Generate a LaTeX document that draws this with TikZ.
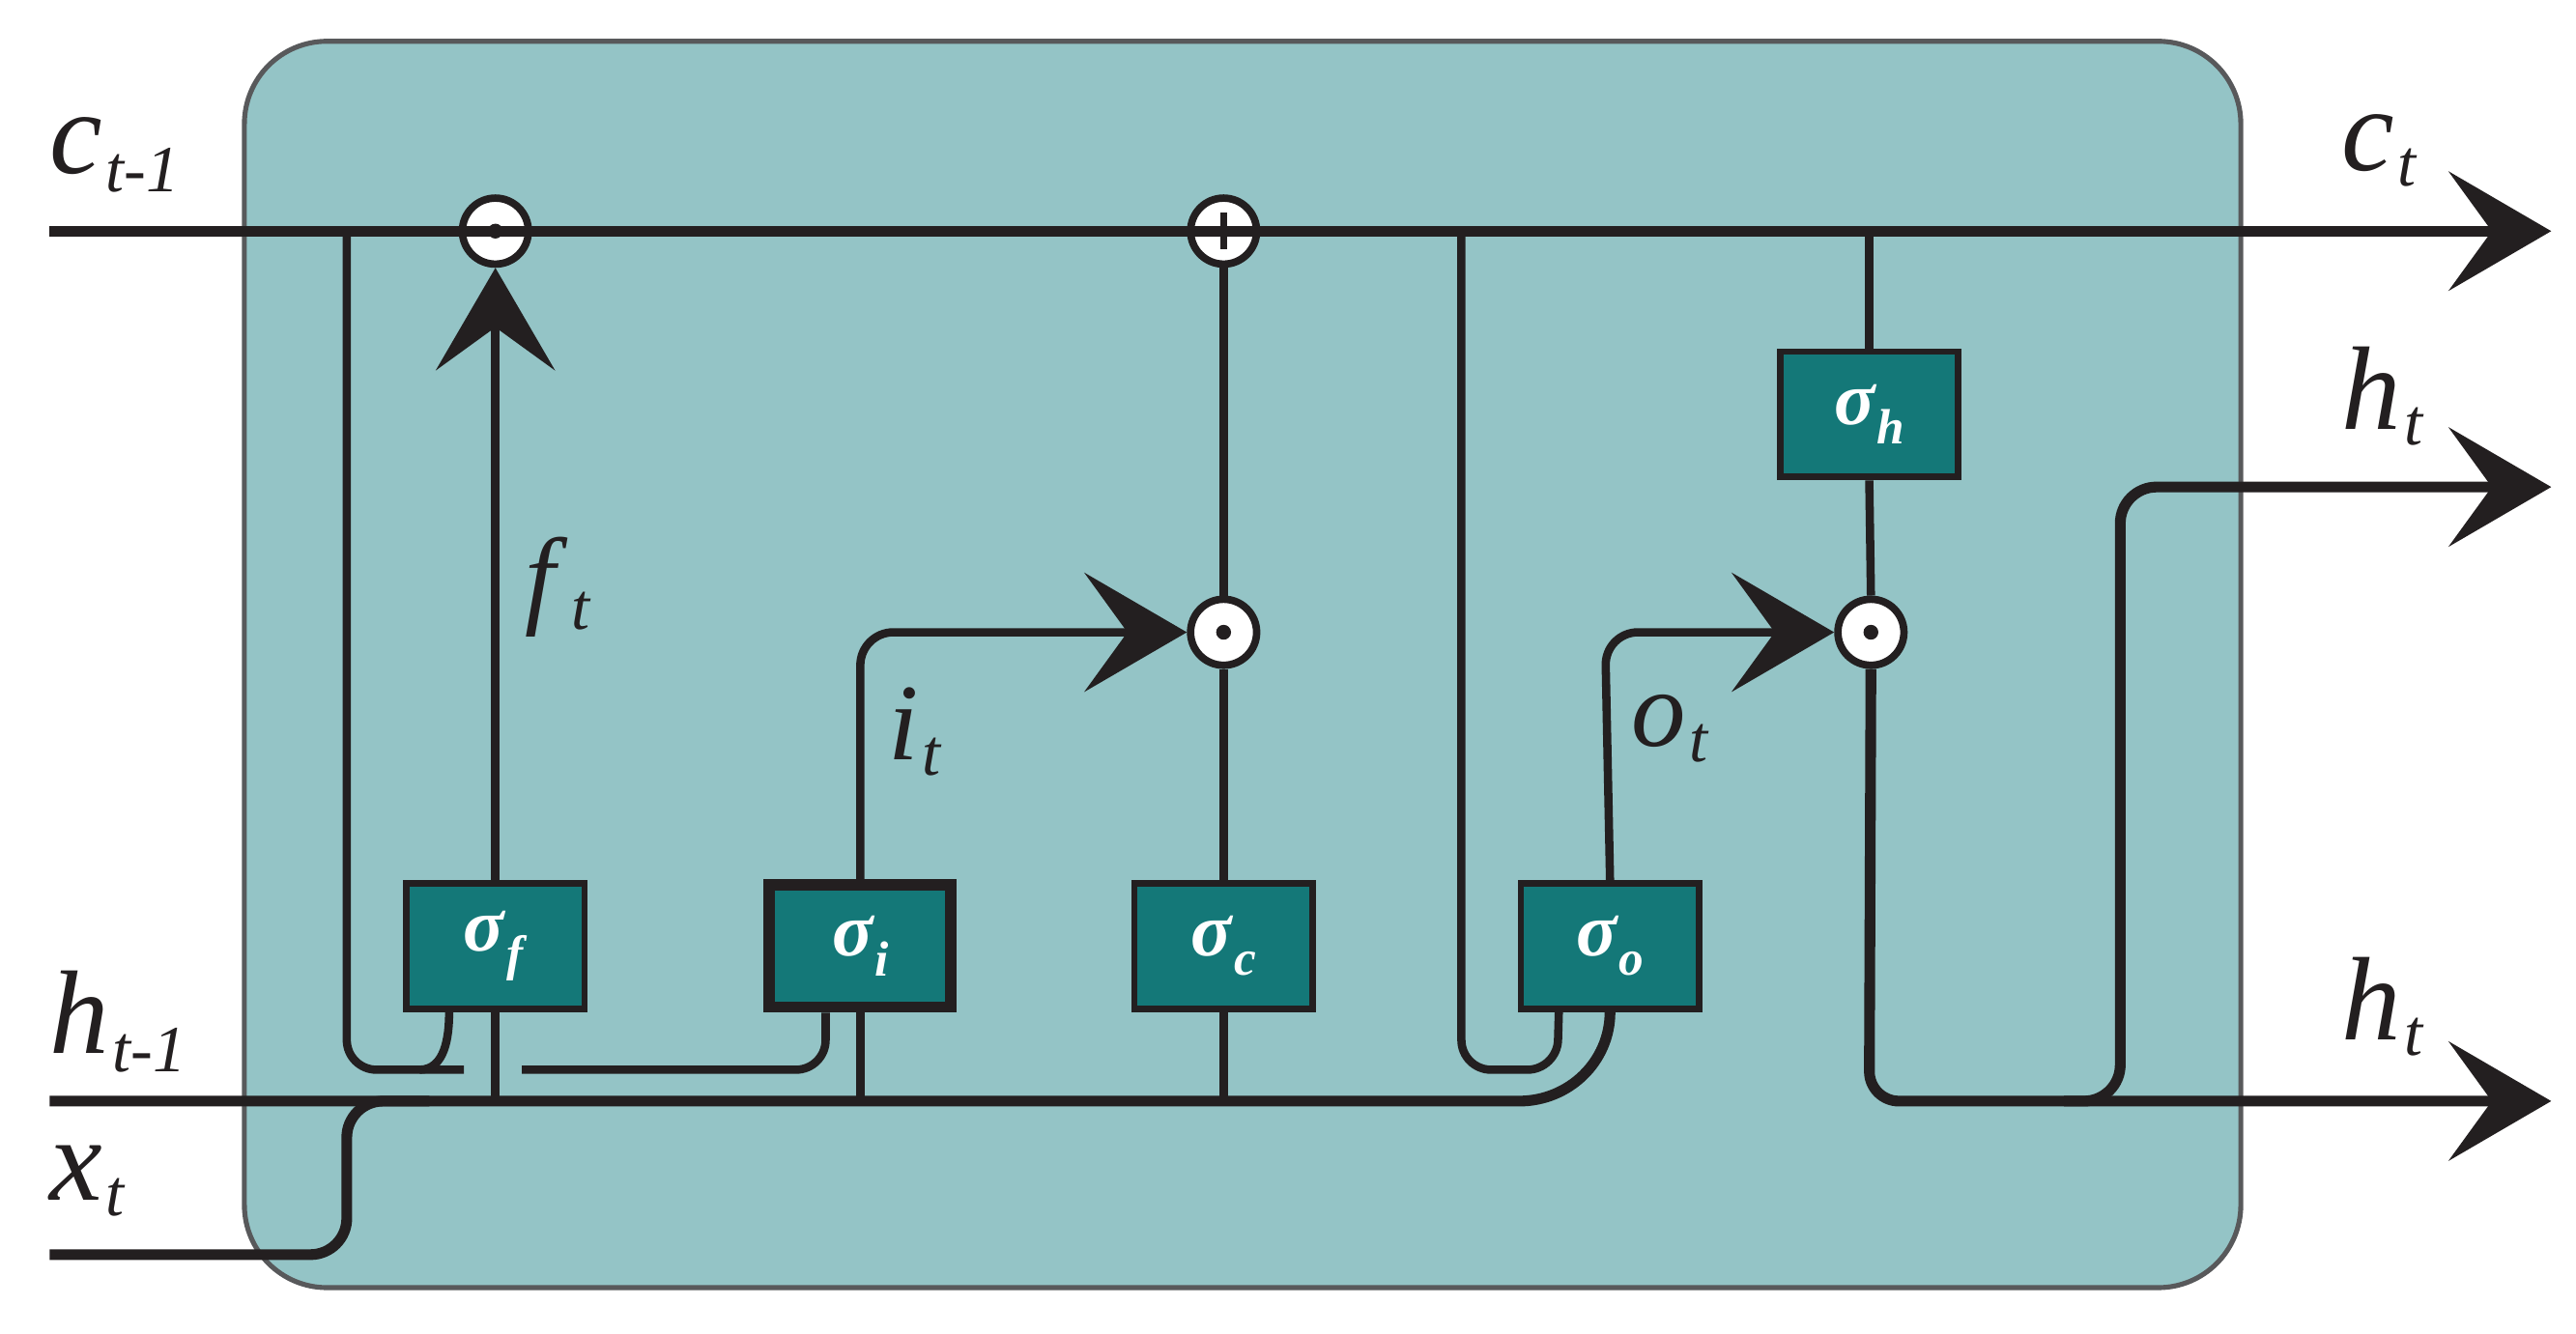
\documentclass[tikz,border=0pt]{standalone}
\usepackage{fontspec}
\setmainfont{Liberation Serif}
\usetikzlibrary{arrows.meta,calc}
\definecolor{cellbg}{HTML}{94C4C6}
\definecolor{cellbd}{HTML}{58595B}
\definecolor{gatebg}{HTML}{147878}
\definecolor{ink}{HTML}{231F20}
\newcommand{\lbl}[3]{\fontsize{#3}{#3}\selectfont\textit{#1}\kern2pt\raisebox{-0.42\height}{\fontsize{40}{40}\selectfont\textit{#2}}}
\newcommand{\glbl}[1]{\fontsize{46}{46}\selectfont\textbf{\textit{σ}}\raisebox{-12pt}{\fontsize{30}{30}\selectfont\textbf{\textit{#1}}}}
\tikzset{
  wire/.style={draw=ink,line width=6.5pt},
  thin/.style={draw=ink,line width=5pt},
  big/.style={-{Stealth[length=62pt,width=72pt,inset=26pt]}},
  gate/.style={draw=ink,fill=gatebg,line width=4pt,minimum width=108pt,minimum height=76pt,inner sep=0pt,text=white},
  op/.style={circle,draw=ink,fill=white,line width=4.5pt,minimum size=40pt,inner sep=0pt},
  lab/.style={inner sep=0pt,anchor=base west,text=ink}
}
\begin{document}
\begin{tikzpicture}[x=1pt,y=-1pt]
\useasboundingbox (0,0) rectangle (1560,808);
\fill[cellbg,draw=cellbd,line width=3pt,rounded corners=50pt] (148,25) rectangle (1357,780);
% nodes
\node[op] (pf) at (300,140) {};
\node[op] (pc) at (741,140) {};
\node[op] (pi) at (741,383) {};
\node[op] (po) at (1133,383) {};
\node[gate] (sf) at (300,573) {\glbl{f}};
\node[gate,line width=7pt,minimum width=110pt,minimum height=74pt] (si) at (521,573) {\glbl{i}};
\node[gate] (sc) at (741,573) {\glbl{c}};
\node[gate] (so) at (975,573) {\glbl{o}};
\node[gate] (sh) at (1132,251) {\glbl{h}};
\coordinate (cin) at (30,140);
\coordinate (cout) at (1545,140);
\coordinate (hin) at (30,667);
\coordinate (xin) at (30,760);
\coordinate (hout) at (1545,667);
\coordinate (hout2) at (1545,295);
% wires
\draw[wire,big] (cin) -- (cout);
\draw[wire] (hin) -- (920,667) to[out=0,in=-90] (so.south);
\draw[wire,rounded corners=22pt] (xin) -- (210,760) -- (210,667) -- (260,667);
\draw[thin] (sf.south) -- (300,667);
\draw[thin] (si.south) -- (521,667);
\draw[thin] (sc.south) -- (741,667);
\draw[thin,big] (sf.north) -- (pf.south);
\draw[thin,rounded corners=20pt,big] (si.north) -- (521,383) -- (pi.west);
\draw[thin,rounded corners=20pt,big] (so.north) -- (972,383) -- (po.west);
\draw[thin] (sc.north) -- (pi.south);
\draw[thin] (pi.north) -- (pc.south);
\draw[thin] (po.north) -- (sh.south);
\draw[thin] (sh.north) -- (1132,140);
% peepholes
\draw[thin,rounded corners=18pt] (210,140) -- (210,648) -- (281,648);
\draw[thin] (254,648) to[out=0,in=-90] ([xshift=-28pt]sf.south);
\draw[thin,rounded corners=18pt] (316,648) -- (500,648) -- ([xshift=-21pt]si.south);
\draw[thin,rounded corners=18pt] (885,140) -- (885,648) -- (943,648) -- ([xshift=-31pt]so.south);
% h outputs
\draw[wire,rounded corners=18pt,big] (po.south) -- (1132,667) -- (hout);
\draw[wire,rounded corners=22pt,big] (1250,667) -- (1284,667) -- (1284,295) -- (hout2);
% op symbols
\foreach \n in {pf,pi,po}{\fill[ink] (\n) circle (4.5pt);}
\draw[ink,line width=4pt] ($(pc)+(-11,0)$) -- ($(pc)+(11,0)$) ($(pc)+(0,-11)$) -- ($(pc)+(0,11)$);
% labels
\node[lab] (lc1) at (30,105) {\lbl{c}{t-1}{72}};
\node[lab] (lct) at (1418,103) {\lbl{c}{t}{72}};
\node[lab] (lht) at (1418,260) {\lbl{h}{t}{72}};
\node[lab] (lht2) at (1418,630) {\lbl{h}{t}{72}};
\node[lab] (lh1) at (30,638) {\lbl{h}{t-1}{72}};
\node[lab] (lx) at (30,727) {\lbl{x}{t}{72}};
\node[lab] (lf) at (318,372) {\lbl{f}{t}{66}};
\node[lab] (li) at (538,460) {\lbl{i}{t}{66}};
\node[lab] (lo) at (988,452) {\lbl{o}{t}{66}};
\end{tikzpicture}
\end{document}
